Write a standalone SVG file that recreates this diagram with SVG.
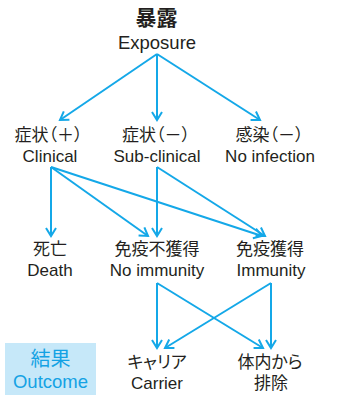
<svg xmlns="http://www.w3.org/2000/svg" width="338" height="398" viewBox="0 0 338 398">
<style>
.ln{stroke:#14a8e8;stroke-width:2;fill:none;marker-end:url(#ah)}
.cjk{font-family:"Noto Sans CJK JP","Noto Sans CJK SC",sans-serif;font-size:17px;fill:#231f20;text-anchor:middle;font-feature-settings:"palt"}
.lat{font-family:"Liberation Sans",Arial,sans-serif;font-size:17px;fill:#231f20;text-anchor:middle}
.out{fill:#14a2e4}
</style>
<defs>
<marker id="ah" markerUnits="userSpaceOnUse" viewBox="-10 -7 12 14" refX="0" refY="0" markerWidth="12" markerHeight="14" orient="auto" overflow="visible">
<path d="M-8,-5 L0,0 L-8,5" fill="none" stroke="#14a8e8" stroke-width="2"/>
</marker>
</defs>
<g id="connectors">
<line class="ln" x1="157" y1="54" x2="60" y2="120"/>
<line class="ln" x1="157" y1="54" x2="157" y2="120"/>
<line class="ln" x1="157" y1="54" x2="260" y2="120"/>
<line class="ln" x1="51" y1="167" x2="51" y2="236"/>
<line class="ln" x1="51" y1="167" x2="148" y2="236"/>
<line class="ln" x1="51" y1="167" x2="262" y2="236"/>
<line class="ln" x1="157" y1="167" x2="157" y2="236"/>
<line class="ln" x1="157" y1="167" x2="265" y2="236"/>
<line class="ln" x1="157" y1="283" x2="157" y2="348"/>
<line class="ln" x1="157" y1="283" x2="263" y2="348"/>
<line class="ln" x1="271" y1="283" x2="271" y2="348"/>
<line class="ln" x1="271" y1="283" x2="165" y2="348"/>
</g>
<g id="exposure">
<text class="cjk" x="156.5" y="25" style="font-size:21px;font-weight:bold">暴露</text>
<text class="lat" x="157" y="49" style="font-size:18.5px">Exposure</text>
</g>
<g id="clinical">
<text class="cjk" x="48.5" y="141">症状（＋）</text>
<text class="lat" x="50" y="162">Clinical</text>
</g>
<g id="subclinical">
<text class="cjk" x="156" y="141">症状（－）</text>
<text class="lat" x="157" y="162">Sub-clinical</text>
</g>
<g id="noinfection">
<text class="cjk" x="269.5" y="141">感染（－）</text>
<text class="lat" x="270" y="162">No infection</text>
</g>
<g id="death">
<text class="cjk" x="50" y="255">死亡</text>
<text class="lat" x="50" y="276">Death</text>
</g>
<g id="noimmunity">
<text class="cjk" x="157" y="255">免疫不獲得</text>
<text class="lat" x="157" y="276">No immunity</text>
</g>
<g id="immunity">
<text class="cjk" x="270" y="255">免疫獲得</text>
<text class="lat" x="271" y="276">Immunity</text>
</g>
<g id="carrier">
<text class="cjk" x="157" y="368">キャリア</text>
<text class="lat" x="157" y="389">Carrier</text>
</g>
<g id="elimination">
<text class="cjk" x="270" y="368">体内から</text>
<text class="cjk" x="271" y="389">排除</text>
</g>
<g id="outcome">
<rect x="5" y="343" width="91" height="52" fill="#c6e8f9"/>
<text class="cjk out" x="50.5" y="366" style="font-size:20px">結果</text>
<text class="lat out" x="50.5" y="388" style="font-size:18.5px">Outcome</text>
</g>
</svg>
